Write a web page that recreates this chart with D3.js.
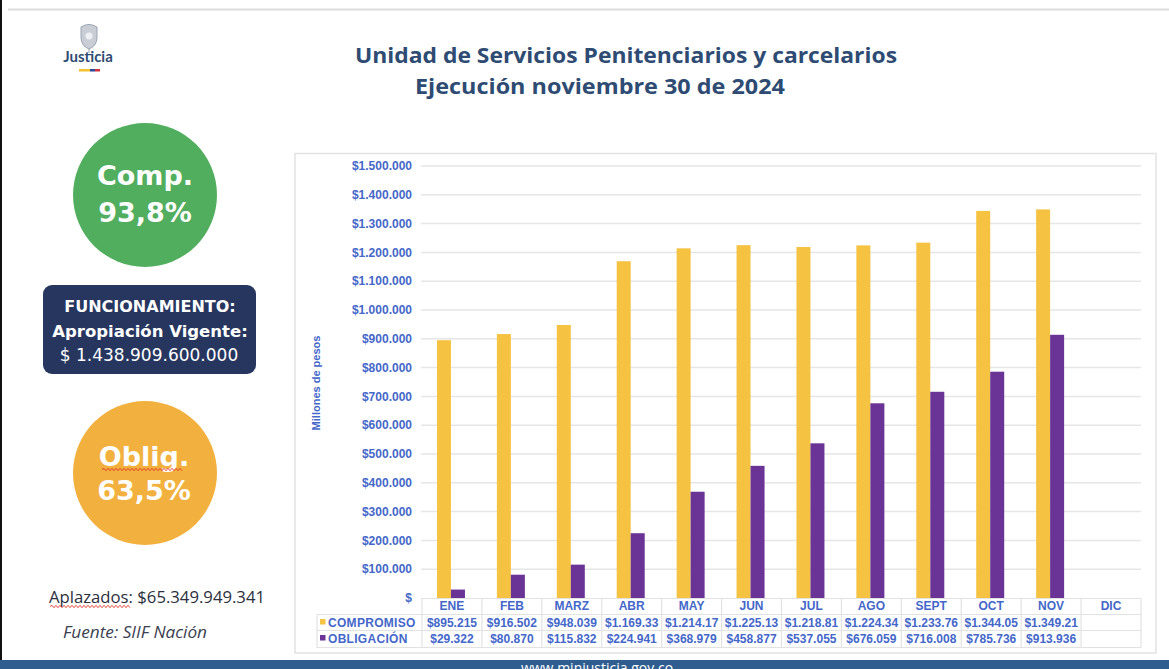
<!DOCTYPE html>
<html>
<head>
<meta charset="utf-8">
<script src="https://cdn.jsdelivr.net/npm/d3@7"></script>
<style>
  html, body { margin: 0; padding: 0; background: #fff; overflow: hidden; }
  svg { display: block; }
</style>
</head>
<body>
<div id="chart"></div>
<script>
// datos (millones de pesos)
let months = ["ENE", "FEB", "MARZ", "ABR", "MAY", "JUN", "JUL", "AGO", "SEPT", "OCT", "NOV", "DIC"];
let compromiso = [895215, 916502, 948039, 1169330, 1214170, 1225130, 1218810, 1224340, 1233760, 1344050, 1349210, null];
let obligacion = [29322, 80870, 115832, 224941, 368979, 458877, 537055, 676059, 716008, 785736, 913936, null];
let seriesNames = ["COMPROMISO", "OBLIGACIÓN"];
let yTicks = [0, 100000, 200000, 300000, 400000, 500000, 600000, 700000, 800000, 900000, 1000000, 1100000, 1200000, 1300000, 1400000, 1500000];

let width = 1169, height = 669;
let YELLOW = "#F5C242", PURPLE = "#6A3396", BLUE = "#4467C9", NAVY = "#2E4B73";

let svg = d3.select("#chart").append("svg")
    .attr("width", width)
    .attr("height", height);

let locale = d3.formatLocale({decimal: ",", thousands: ".", grouping: [3], currency: ["$", ""]});
let money = locale.format("$,");
function fmt(v) { return v === 0 ? "$" : money(v); }

//FRAME
svg.append("rect").attr("x", 0).attr("y", 0).attr("width", 2).attr("height", 660).style("fill", "#111");
svg.append("line").attr("x1", 8).attr("x2", width).attr("y1", 9.5).attr("y2", 9.5)
    .style("stroke", "#dcdcdc").style("stroke-width", 2);

//LOGO
{
    let g = svg.append("g").attr("transform", "translate(89,37)");
    g.append("path")
        .attr("d", "M-8,-10 Q0,-15 8,-10 L8,0 Q8,9 0,12 Q-8,9 -8,0 Z")
        .style("fill", "#c9ced6").style("stroke", "#9aa3b0").style("stroke-width", 1);
    g.append("circle").attr("r", 3.5).attr("cy", -1).style("fill", "#eef0f3");
    g.append("line").attr("x1", 0).attr("x2", 0).attr("y1", 12).attr("y2", 16).style("stroke", "#9aa3b0");
    svg.append("text").attr("x", 88).attr("y", 62).attr("text-anchor", "middle")
        .style("font-family", "Lato").style("font-weight", 700).style("font-size", "15px")
        .style("fill", NAVY).text("Justicia");
    let stripe = [["#F2C230", 79, 11], ["#2E4B9A", 90, 5], ["#D0343A", 95, 5]];
    stripe.forEach(function (s) {
        svg.append("rect").attr("x", s[1]).attr("y", 69).attr("width", s[2]).attr("height", 2.5).style("fill", s[0]);
    });
}

//TITLE
svg.append("text").attr("x", 355).attr("y", 63).attr("textLength", 542).attr("lengthAdjust", "spacingAndGlyphs")
    .style("font-family", "Open Sans").style("font-weight", 700).style("font-size", "21.5px")
    .style("fill", NAVY).text("Unidad de Servicios Penitenciarios y carcelarios");
svg.append("text").attr("x", 415).attr("y", 94).attr("textLength", 370).attr("lengthAdjust", "spacingAndGlyphs")
    .style("font-family", "Open Sans").style("font-weight", 700).style("font-size", "21.5px")
    .style("fill", NAVY).text("Ejecución noviembre 30 de 2024");

function wavy(x1, x2, y) {
    let d = "M" + x1 + "," + y;
    let up = true;
    for (let x = x1 + 2; x <= x2; x += 2) {
        d += " L" + x + "," + (up ? y - 1.2 : y + 1.2);
        up = !up;
    }
    svg.append("path").attr("d", d).style("fill", "none").style("stroke", "#e0352b").style("stroke-width", 0.9);
}

//LEFT PANEL
{
    svg.append("circle").attr("cx", 145).attr("cy", 195).attr("r", 72).style("fill", "#52AE5F");
    let big = [["Comp.", 185], ["93,8%", 222]];
    big.forEach(function (t) {
        svg.append("text").attr("x", 145).attr("y", t[1]).attr("text-anchor", "middle")
            .style("font-family", "DejaVu Sans").style("font-weight", 700).style("font-size", "27px")
            .style("fill", "#fff").text(t[0]);
    });

    svg.append("rect").attr("x", 43).attr("y", 285).attr("width", 213).attr("height", 89).attr("rx", 9)
        .style("fill", "#26365F");
    svg.append("text").attr("x", 150).attr("y", 312).attr("text-anchor", "middle")
        .style("font-family", "DejaVu Sans").style("font-weight", 700).style("font-size", "16px")
        .style("fill", "#fff").text("FUNCIONAMIENTO:");
    svg.append("text").attr("x", 150).attr("y", 337).attr("text-anchor", "middle")
        .style("font-family", "DejaVu Sans").style("font-weight", 700).style("font-size", "16.5px")
        .style("fill", "#fff").text("Apropiación Vigente:");
    svg.append("text").attr("x", 149).attr("y", 361).attr("text-anchor", "middle")
        .style("font-family", "DejaVu Sans").style("font-size", "17px")
        .style("fill", "#fff").text("$ 1.438.909.600.000");

    svg.append("circle").attr("cx", 145).attr("cy", 473).attr("r", 72).style("fill", "#F2B13E");
    let big2 = [["Oblig.", 466], ["63,5%", 500]];
    big2.forEach(function (t) {
        svg.append("text").attr("x", 144).attr("y", t[1]).attr("text-anchor", "middle")
            .style("font-family", "DejaVu Sans").style("font-weight", 700).style("font-size", "27px")
            .style("fill", "#fff").text(t[0]);
    });
    wavy(102, 183, 469.5);

    svg.append("text").attr("x", 49).attr("y", 603).attr("textLength", 216).attr("lengthAdjust", "spacingAndGlyphs")
        .style("font-family", "Open Sans").style("font-size", "16.5px").style("fill", "#2b2f3d")
        .text("Aplazados: $65.349.949.341");
    wavy(50, 131, 606.5);
    svg.append("text").attr("x", 63).attr("y", 638).attr("textLength", 144).attr("lengthAdjust", "spacingAndGlyphs")
        .style("font-family", "Open Sans").style("font-style", "italic").style("font-size", "16px")
        .style("fill", "#3a4150").text("Fuente: SIIF Nación");
}

//CHART PANEL
svg.append("rect").attr("x", 295).attr("y", 153.5).attr("width", 861).attr("height", 499.5)
    .style("fill", "#fff").style("stroke", "#e2e2e2").style("stroke-width", 1.5);

let x0 = d3.scaleBand().domain(months).range([422, 1141]).padding(0);
let x1 = d3.scaleBand().domain(seriesNames)
    .range([x0.bandwidth() / 2 - 15, x0.bandwidth() / 2 + 13]);
let y = d3.scaleLinear().domain([0, 1500000]).range([598, 166]);

// grid + ticks
svg.append("g").selectAll("line").data(yTicks.filter(function (d) { return d > 0; })).join("line")
    .attr("x1", 421).attr("x2", 1141)
    .attr("y1", function (d) { return y(d); }).attr("y2", function (d) { return y(d); })
    .style("stroke", "#e6e6e6").style("stroke-width", 1.5);

svg.append("g").selectAll("text").data(yTicks).join("text")
    .attr("x", 412).attr("y", function (d) { return y(d); }).attr("dy", ".35em")
    .attr("text-anchor", "end")
    .style("font-family", "Liberation Sans").style("font-weight", 700).style("font-size", "12px")
    .style("fill", BLUE).text(fmt);

svg.append("text")
    .attr("transform", "translate(320,383) rotate(-90)")
    .attr("text-anchor", "middle")
    .style("font-family", "Liberation Sans").style("font-weight", 700).style("font-size", "11px")
    .style("fill", BLUE).text("Millones de pesos");

// bars
let rows = months.map(function (m, i) {
    return {month: m, values: [{key: seriesNames[0], v: compromiso[i]}, {key: seriesNames[1], v: obligacion[i]}]};
});
let colors = d3.scaleOrdinal().domain(seriesNames).range([YELLOW, PURPLE]);

svg.append("g").selectAll("g").data(rows).join("g")
    .attr("transform", function (d) { return "translate(" + x0(d.month) + ",0)"; })
    .selectAll("rect").data(function (d) { return d.values.filter(function (e) { return e.v != null; }); }).join("rect")
    .attr("x", function (d) { return x1(d.key); })
    .attr("width", x1.bandwidth())
    .attr("y", function (d) { return y(d.v); })
    .attr("height", function (d) { return y(0) - y(d.v); })
    .style("fill", function (d) { return colors(d.key); });

//DATA TABLE
{
    let tTop = 598.5, rowH = [16, 16, 17];
    let rowY = [tTop, tTop + rowH[0], tTop + rowH[0] + rowH[1], tTop + rowH[0] + rowH[1] + rowH[2]];
    let g = svg.append("g");
    let gridStyle = function (s) { return s.style("stroke", "#e2e2e2").style("stroke-width", 1.2); };

    // horizontal lines
    gridStyle(g.append("line").attr("x1", 421).attr("x2", 1141).attr("y1", rowY[0]).attr("y2", rowY[0]).style("stroke", "#d9d9d9"));
    for (let r = 1; r < 4; ++r) {
        gridStyle(g.append("line").attr("x1", 317).attr("x2", 1141).attr("y1", rowY[r]).attr("y2", rowY[r]));
    }
    // vertical lines
    gridStyle(g.append("line").attr("x1", 317).attr("x2", 317).attr("y1", rowY[1]).attr("y2", rowY[3]));
    let edges = months.map(function (m) { return x0(m); }).concat([x0.range()[1]]);
    edges.forEach(function (e) {
        gridStyle(g.append("line").attr("x1", e).attr("x2", e).attr("y1", rowY[0]).attr("y2", rowY[3]));
    });

    let cellFont = function (s) {
        return s.style("font-family", "Liberation Sans").style("font-weight", 700).style("font-size", "12px").style("fill", BLUE);
    };

    // header
    cellFont(g.append("g").selectAll("text").data(months).join("text")
        .attr("x", function (d) { return x0(d) + x0.bandwidth() / 2; })
        .attr("y", rowY[0] + 11.5).attr("text-anchor", "middle").text(function (d) { return d; }));

    let series = [compromiso, obligacion];
    series.forEach(function (vals, r) {
        let ty = rowY[r + 1] + 12;
        // legend key
        g.append("rect").attr("x", 320).attr("y", ty - 7.5).attr("width", 5.5).attr("height", 5.5)
            .style("fill", colors(seriesNames[r]));
        cellFont(g.append("text").attr("x", 328).attr("y", ty).style("font-size", "11.5px")
            .style("letter-spacing", "0.3px").text(seriesNames[r]));
        cellFont(g.append("g").selectAll("text").data(vals.map(function (v, i) { return {v: v, m: months[i]}; })
            .filter(function (d) { return d.v != null; })).join("text")
            .attr("x", function (d) { return x0(d.m) + x0.bandwidth() / 2; })
            .attr("y", ty).attr("text-anchor", "middle")
            .text(function (d) { return fmt(d.v).slice(0, 9); }));
    });
}

//FOOTER
svg.append("rect").attr("x", 0).attr("y", 660).attr("width", width).attr("height", 9).style("fill", "#2F5D8F");
svg.append("text").attr("x", 597).attr("y", 673).attr("text-anchor", "middle")
    .style("font-family", "Open Sans").style("font-size", "14px").style("fill", "#fff")
    .text("www.minjusticia.gov.co");
</script>
</body>
</html>
